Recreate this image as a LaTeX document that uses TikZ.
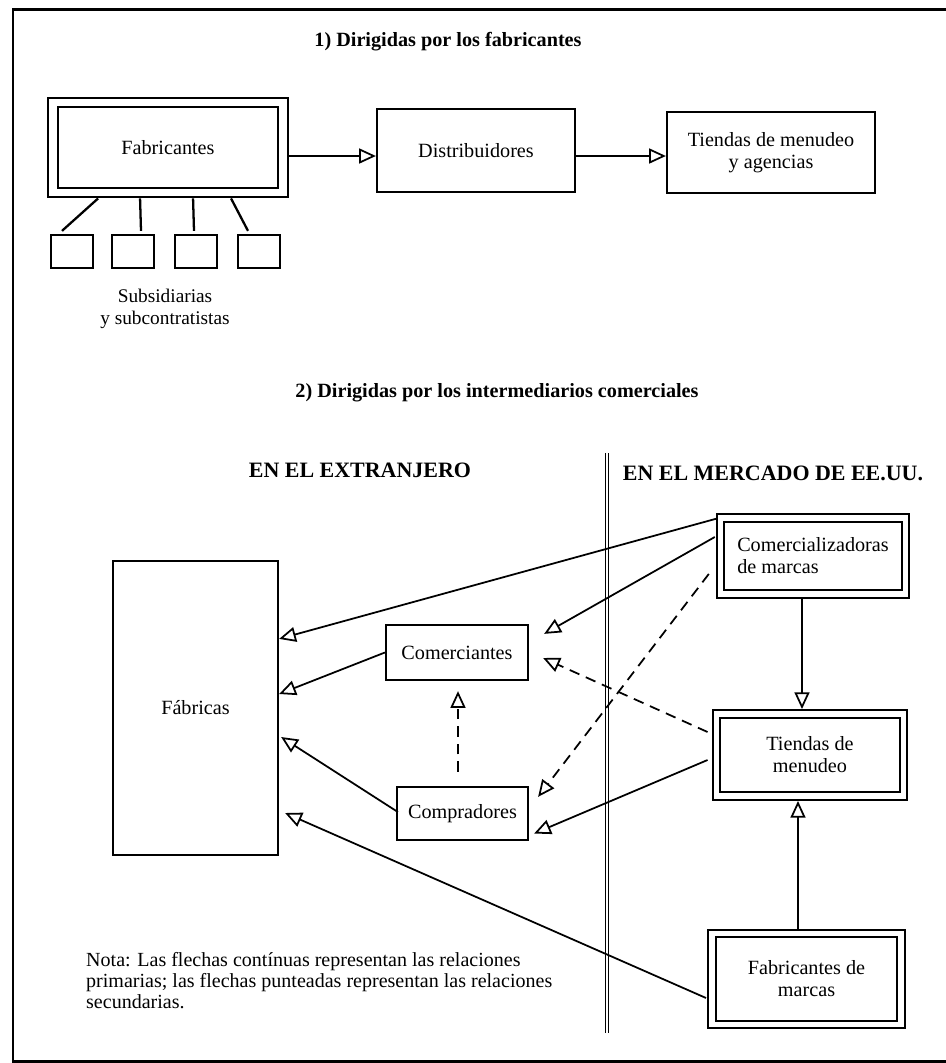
\documentclass[tikz,border=0pt]{standalone}
\usepackage{fontspec}
\setmainfont{Liberation Serif}
\usetikzlibrary{positioning, arrows.meta, calc}

\tikzset{
    box/.style={draw, line width=1.3pt, inner sep=2pt, align=center,
        font=\fontsize{11.5}{12.5}\selectfont},
    dbox/.style={box, double, double distance=3pt, line width=1.1pt},
    subbox/.style={draw, line width=1.3pt, minimum width=0.84cm, minimum height=0.66cm},
    prim/.style={line width=1pt, -{Triangle[open, length=9.5pt, width=8.5pt]}},
    sec/.style={prim, dash pattern=on 6pt off 4pt},
    title/.style={font=\fontsize{11.5}{13}\selectfont\bfseries},
    side/.style={font=\fontsize{12.5}{14}\selectfont\bfseries},
    txt/.style={font=\fontsize{11}{12}\selectfont, align=left}
}

\begin{document}
\begin{tikzpicture}[x=0.02cm, y=-0.02cm]
    \useasboundingbox (0,0) rectangle (946,1063);

    % border
    \draw[line width=1.7pt] (952,9) -- (13,9) -- (13,1061) -- (952,1061);

    % 1) part
    \node[title] (t1) at (448,42) {1) Dirigidas por los fabricantes};

    \node[dbox, double distance=4.5pt, minimum width=4.6cm, minimum height=1.8cm] (fabr) at (168,147.5) {Fabricantes};
    \node[box, minimum width=3.96cm, minimum height=1.66cm] (dist) at (476,150.5) {Distribuidores};
    \node[box, minimum width=4.16cm, minimum height=1.62cm] (tage) at (771,152.5) {Tiendas de menudeo\\y agencias};

    \draw[prim] ($(fabr.east)+(4,8.5)$) -- ($(dist.west)+(0,5.5)$);
    \draw[prim] ($(dist.east)+(0,5.5)$) -- ($(tage.west)+(0,3.5)$);

    % subsidiaries
    \foreach \i/\x/\dx/\ex in {1/72/46/-10, 2/133/88/8, 3/196/141/-2, 4/259/179/-11}
    {
        \node[subbox] (sub\i) at (\x,251.5) {};
        \draw[line width=1.3pt] ($(fabr.south west)+(\dx,5)$) -- ($(sub\i.north)+(\ex,-3)$);
    }
    \node[txt, align=center, font=\fontsize{11}{12.5}\selectfont] (subl) at (165,309) {Subsidiarias\\y subcontratistas};

    % 2) part
    \node[title] (t2) at (497,393) {2) Dirigidas por los intermediarios comerciales};
    \node[side] (ext) at (360,470) {EN EL EXTRANJERO};
    \node[side] (usa) at (773,473) {EN EL MERCADO DE EE.UU.};

    \coordinate (sept) at (607,453);
    \coordinate (sepb) at (607,1033);
    \draw[double, double distance=1.2pt, line width=0.5pt] (sept) -- (sepb);

    \node[box, minimum width=3.3cm, minimum height=5.88cm] (fab) at (195.5,708) {F\'abricas};
    \node[box, minimum width=2.84cm, minimum height=1.1cm] (merc) at (457,652.5) {Comerciantes};
    \node[box, minimum width=2.62cm, minimum height=1.06cm] (comp) at (462.5,813.5) {Compradores};

    \node[dbox, minimum width=3.69cm, minimum height=1.52cm, align=left] (comm) at (813,556) {Comercializadoras\\de marcas};
    \node[dbox, minimum width=3.74cm, minimum height=1.64cm] (tmen) at (810,755) {Tiendas de\\menudeo};
    \node[dbox, minimum width=3.78cm, minimum height=1.81cm] (fmar) at (806.5,979) {Fabricantes de\\marcas};

    % primary relations
    \draw[prim] ($(comm.north west)+(-3,1.5)$) -- ($(fab.north east)+(0,79)$);
    \draw[prim] ($(comm.west)+(-5,-19)$) -- ($(merc.north east)+(15,10)$);
    \draw[prim] (merc.west) -- ($(fab.east)+(0,-14)$);
    \draw[prim] ($(comp.west)+(2,-1.5)$) -- ($(fab.east)+(2,29)$);
    \draw[prim] ($(fmar.west)+(-5,19)$) -- ($(fab.east)+(6,105)$);
    \draw[prim] ($(tmen.west)+(-8,5)$) -- ($(comp.east)+(5,20)$);
    \draw[prim] ($(comm.south)+(-11,4)$) -- ($(tmen.north)+(-8,-4)$);
    \draw[prim] ($(fmar.north)+(-8.5,-4)$) -- ($(tmen.south)+(-12,4)$);

    % secondary relations
    \draw[sec] ($(tmen.west)+(-8,-23)$) -- ($(merc.east)+(14,5.5)$);
    \draw[sec] ($(comm.south west)+(-11,-21)$) -- ($(comp.north east)+(9,11)$);
    \draw[sec] ($(comp.north)+(-4.5,-14)$) -- ($(merc.south)+(1,10)$);

    \node[txt, anchor=north west, font=\fontsize{11.4}{12}\selectfont] (nota) at (80,946)
        {Nota: Las flechas cont\'inuas representan las relaciones\\primarias; las flechas punteadas representan las relaciones\\secundarias.};
\end{tikzpicture}
\end{document}
